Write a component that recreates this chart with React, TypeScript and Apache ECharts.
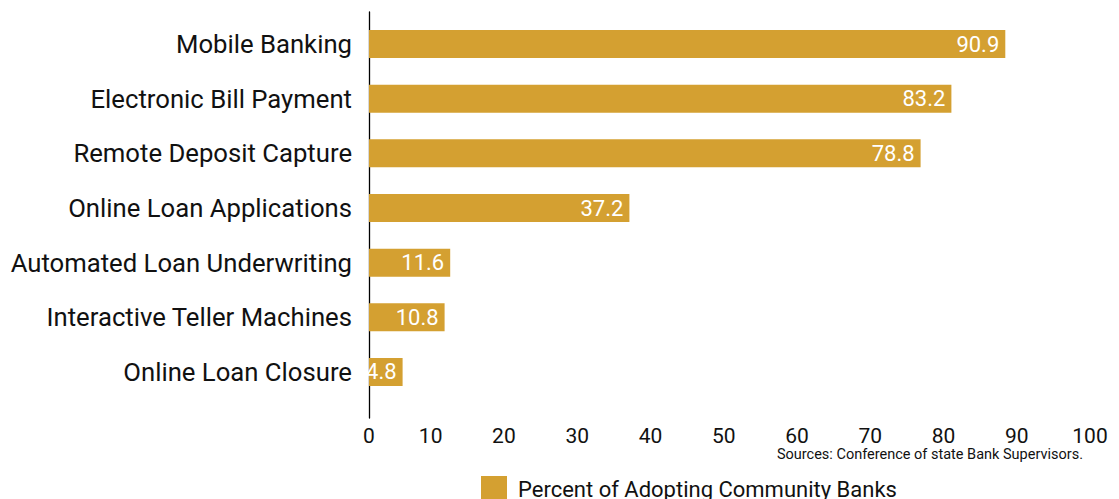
import React, { useEffect, useRef } from "react";
import * as echarts from "echarts";

const categories = [
  "Mobile Banking",
  "Electronic Bill Payment",
  "Remote Deposit Capture",
  "Online Loan Applications",
  "Automated Loan Underwriting",
  "Interactive Teller Machines",
  "Online Loan Closure",
];
const values = [90.9, 83.2, 78.8, 37.2, 11.6, 10.8, 4.8];
const seriesName = "Percent of Adopting Community Banks";
const sourceText = "Sources: Conference of state Bank Supervisors.";
const barColor = "#D4A031";
const FONT = "Roboto, 'Noto Sans', sans-serif";

export default function App() {
  const ref = useRef<HTMLDivElement>(null);
  useEffect(() => {
    if (!ref.current) return;
    const chart = echarts.init(ref.current, null, { renderer: "svg" });
    chart.setOption({
      animation: false,
      textStyle: { fontFamily: FONT },
      grid: [
        // bars
        { left: 369, width: 700, top: 16.7, height: 382.6 },
        // vertical axis line
        { left: 369, width: 700, top: 12, bottom: 81 },
        // x tick labels
        { left: 357.4, right: 29, top: 12, bottom: 81 },
      ],
      xAxis: [
        {
          gridIndex: 0,
          type: "value",
          min: 0,
          max: 100,
          axisLine: { show: false },
          axisTick: { show: false },
          axisLabel: { show: false },
          splitLine: { show: false },
        },
        {
          gridIndex: 1,
          type: "value",
          min: 0,
          max: 100,
          show: false,
        },
        {
          gridIndex: 2,
          type: "value",
          min: 0,
          max: 100,
          interval: 10,
          axisLine: { show: false },
          axisTick: { show: false },
          splitLine: { show: false },
          axisLabel: {
            margin: 7,
            fontSize: 21,
            color: "#111",
            fontFamily: FONT,
            formatter: (v: number) => (v === 0 ? "{z|0}" : String(v)),
            rich: {
              z: { fontSize: 21, color: "#111", fontFamily: FONT, padding: [0, 0, 0, 23] },
            },
          },
        },
      ],
      yAxis: [
        {
          gridIndex: 0,
          type: "category",
          inverse: true,
          data: categories,
          axisLine: { show: false },
          axisTick: { show: false },
          axisLabel: {
            margin: 17,
            fontSize: 25.7,
            color: "#111",
            fontFamily: FONT,
            padding: [0, 0, 6, 0],
          },
        },
        {
          gridIndex: 1,
          type: "value",
          axisLine: { show: true, lineStyle: { color: "#000", width: 1.3 } },
          axisTick: { show: false },
          axisLabel: { show: false },
          splitLine: { show: false },
        },
        {
          gridIndex: 2,
          type: "value",
          show: false,
        },
      ],
      legend: {
        left: 476,
        top: 471,
        itemWidth: 26,
        itemHeight: 26,
        icon: "rect",
        data: [seriesName],
        textStyle: { fontSize: 22, color: "#111", fontFamily: FONT, padding: [0, 0, 0, 6] },
      },
      graphic: [
        {
          type: "text",
          x: 1083,
          y: 454,
          style: {
            text: sourceText,
            fontSize: 14.5,
            fontFamily: FONT,
            fill: "#111",
            textAlign: "right",
            textVerticalAlign: "middle",
          },
        },
      ],
      series: [
        {
          name: seriesName,
          type: "bar",
          xAxisIndex: 0,
          yAxisIndex: 0,
          data: values,
          barWidth: 28,
          itemStyle: { color: barColor },
          label: {
            show: true,
            position: "insideRight",
            distance: 6,
            color: "#fff",
            fontSize: 22,
            fontFamily: FONT,
          },
        },
      ],
    });
    return () => chart.dispose();
  }, []);
  return (
    <div
      ref={ref}
      style={{ position: "fixed", left: 0, top: 0, width: 1119, height: 499, background: "#fff" }}
    />
  );
}
